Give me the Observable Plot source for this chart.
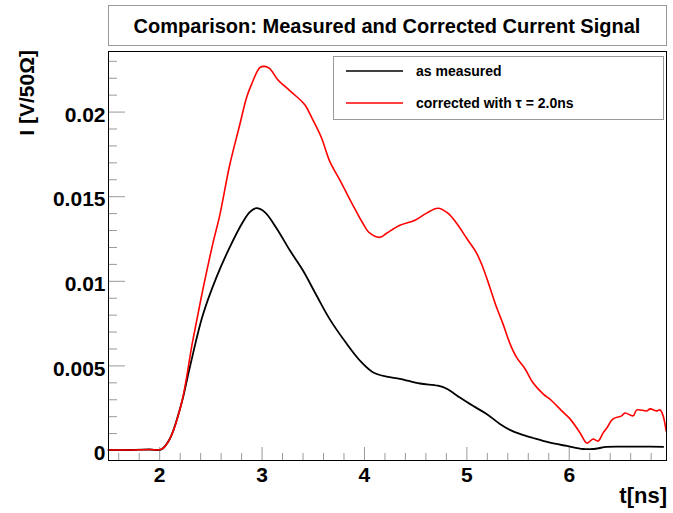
<!DOCTYPE html>
<html>
<head>
<meta charset="utf-8">
<script src="https://cdn.jsdelivr.net/npm/d3@7"></script>
<script src="https://cdn.jsdelivr.net/npm/@observablehq/plot@0.6"></script>
<style>
  body { margin: 0; background: #fff; }
  #chart { width: 673px; height: 513px; }
</style>
</head>
<body>
<div id="chart"></div>
<script>
// ---- data ----
const tMeasured = [1.5, 1.707, 1.902, 2.017, 2.098, 2.212, 2.293, 2.420, 2.554, 2.684, 2.811, 2.880, 2.945, 3.026, 3.141, 3.271, 3.398, 3.532, 3.662, 3.825, 3.955, 4.082, 4.216, 4.346, 4.542, 4.717, 4.803, 4.932, 5.059, 5.193, 5.323, 5.421, 5.518, 5.646, 5.812, 5.976, 6.135, 6.233, 6.367, 6.497, 6.790, 6.917];
const iMeasured = [0.00003, 0.00003, 0.00006, 0.00007, 0.00068, 0.00276, 0.00489, 0.00798, 0.01023, 0.01201, 0.01349, 0.01409, 0.01432, 0.01409, 0.01314, 0.01183, 0.01065, 0.00916, 0.00775, 0.00632, 0.00532, 0.00463, 0.00437, 0.00424, 0.00396, 0.00383, 0.00365, 0.00313, 0.00264, 0.00216, 0.00157, 0.00122, 0.00098, 0.00074, 0.00046, 0.00027, 0.00009, 0.00009, 0.00021, 0.00023, 0.00023, 0.00021];

const tCorrected = [1.5, 1.707, 1.902, 2.017, 2.098, 2.212, 2.323, 2.420, 2.518, 2.587, 2.684, 2.782, 2.848, 2.896, 2.978, 3.026, 3.075, 3.153, 3.238, 3.336, 3.417, 3.496, 3.581, 3.662, 3.760, 3.887, 3.984, 4.053, 4.150, 4.216, 4.346, 4.493, 4.607, 4.717, 4.815, 4.900, 4.998, 5.096, 5.157, 5.225, 5.291, 5.352, 5.421, 5.487, 5.568, 5.646, 5.744, 5.829, 5.927, 6.008, 6.106, 6.174, 6.233, 6.282, 6.331, 6.367, 6.428, 6.513, 6.545, 6.624, 6.660, 6.758, 6.790, 6.855, 6.888, 6.917, 6.946];
const iCorrected = [0.00003, 0.00003, 0.00006, 0.00007, 0.00068, 0.00276, 0.00649, 0.00946, 0.01220, 0.01391, 0.01687, 0.01925, 0.02085, 0.02162, 0.02263, 0.02270, 0.02257, 0.02191, 0.02144, 0.02092, 0.02043, 0.01954, 0.01847, 0.01707, 0.01598, 0.01450, 0.01343, 0.01284, 0.01260, 0.01284, 0.01331, 0.01361, 0.01403, 0.01432, 0.01403, 0.01343, 0.01254, 0.01165, 0.01082, 0.00964, 0.00845, 0.00750, 0.00632, 0.00549, 0.00483, 0.00400, 0.00335, 0.00294, 0.00234, 0.00187, 0.00104, 0.00044, 0.00068, 0.00056, 0.00104, 0.00133, 0.00187, 0.00205, 0.00222, 0.00205, 0.00240, 0.00234, 0.00246, 0.00234, 0.00240, 0.00205, 0.00116];

const xTicks = [2, 3, 4, 5, 6];
const xTickLabels = ["2", "3", "4", "5", "6"];
const xMinorTicks = [1.6, 1.8, 2.2, 2.4, 2.6, 2.8, 3.2, 3.4, 3.6, 3.8, 4.2, 4.4, 4.6, 4.8, 5.2, 5.4, 5.6, 5.8, 6.2, 6.4, 6.6, 6.8];
const yTicks = [0, 0.005, 0.01, 0.015, 0.02];
const yTickLabels = ["0", "0.005", "0.01", "0.015", "0.02"];
const yMinorTicks = [0.001, 0.002, 0.003, 0.004, 0.006, 0.007, 0.008, 0.009, 0.011, 0.012, 0.013, 0.014, 0.016, 0.017, 0.018, 0.019, 0.021, 0.022, 0.023];

const titleText = "Comparison: Measured and Corrected Current Signal";
const seriesNames = ["as measured", "corrected with \u03c4 = 2.0ns"];
const seriesColors = ["#000000", "#ff0000"];
const xLabel = "t[ns]";
const yLabel = "I [V/50\u03a9]";

// ---- build tables ----
const measured = tMeasured.map((t, i) => ({t, v: iMeasured[i]}));
const corrected = tCorrected.map((t, i) => ({t, v: iCorrected[i]}));

const W = 673, H = 513;
const mL = 108, mR = 7, mT = 51, mB = 53;
const frameW = W - mL - mR, frameH = H - mT - mB;
const font = '"Liberation Sans", Arial, Helvetica, sans-serif';

const chart = Plot.plot({
  width: W, height: H,
  marginLeft: mL, marginRight: mR, marginTop: mT, marginBottom: mB,
  style: {fontFamily: font, background: "#fff", color: "#000"},
  x: {domain: [1.5, 6.95]},
  y: {domain: [-0.00059, 0.02358]},
  marks: [
    Plot.tickY(yTicks, {y: d => d, insetRight: frameW - 17, stroke: "#999"}),
    Plot.tickY(yMinorTicks, {y: d => d, insetRight: frameW - 9, stroke: "#999"}),
    Plot.tickX(xTicks, {x: d => d, insetTop: frameH - 13, stroke: "#999"}),
    Plot.tickX(xMinorTicks, {x: d => d, insetTop: frameH - 7, stroke: "#999"}),
    Plot.line(measured, {x: "t", y: "v", stroke: seriesColors[0], strokeWidth: 1.8, curve: "catmull-rom"}),
    Plot.line(corrected, {x: "t", y: "v", stroke: seriesColors[1], strokeWidth: 1.6, curve: "catmull-rom"}),
    Plot.frame({stroke: "#000"}),
    Plot.axisY({ticks: yTicks, tickSize: 0, tickPadding: 3, dy: 3, fontSize: 21, fontWeight: "bold",
      tickFormat: d => yTickLabels[yTicks.indexOf(d)], label: null}),
    Plot.axisX({ticks: xTicks, tickSize: 0, tickPadding: 7, fontSize: 21, fontWeight: "bold",
      tickFormat: d => xTickLabels[xTicks.indexOf(d)], label: null})
  ]
});

const svg = d3.select(chart);
// title box
svg.append("rect").attr("x", 108.5).attr("y", 5.5).attr("width", 558).attr("height", 40)
  .attr("fill", "#fff").attr("stroke", "#999");
svg.append("text").attr("x", 387).attr("y", 33).attr("text-anchor", "middle")
  .attr("font-family", font).attr("font-weight", "bold").attr("font-size", 20).text(titleText);

// legend
svg.append("rect").attr("x", 333.5).attr("y", 56.5).attr("width", 330).attr("height", 63)
  .attr("fill", "#fff").attr("stroke", "#999");
const legY = [71, 103];
seriesNames.forEach((name, i) => {
  svg.append("line").attr("x1", 346).attr("x2", 403).attr("y1", legY[i]).attr("y2", legY[i])
    .attr("stroke", seriesColors[i]).attr("stroke-width", 1.6);
  svg.append("text").attr("x", 416).attr("y", legY[i] + 5).attr("text-anchor", "start")
    .attr("font-family", font).attr("font-weight", "bold").attr("font-size", 14).text(name);
});

// axis titles
svg.append("text").attr("transform", "translate(34,50) rotate(-90)").attr("text-anchor", "end")
  .attr("font-family", font).attr("font-weight", "bold").attr("font-size", 21).text(yLabel);
svg.append("text").attr("x", 667).attr("y", 503).attr("text-anchor", "end")
  .attr("font-family", font).attr("font-weight", "bold").attr("font-size", 22).text(xLabel);

document.getElementById("chart").appendChild(chart);
</script>
</body>
</html>
